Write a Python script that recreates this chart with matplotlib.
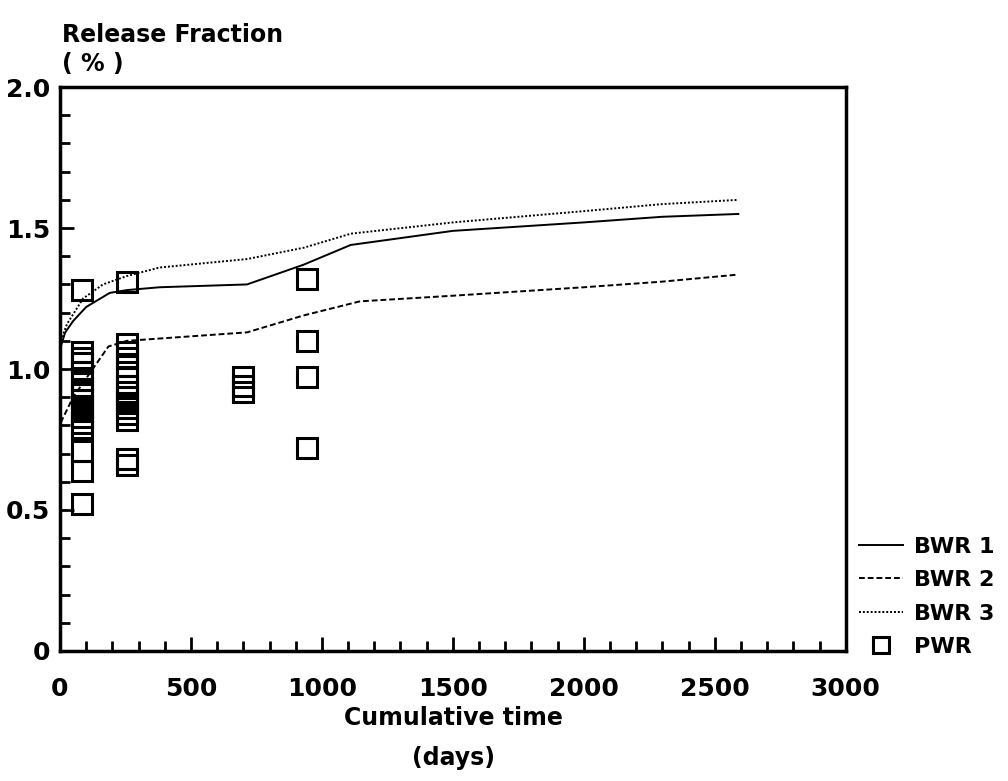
import numpy as np
import matplotlib.pyplot as plt
from matplotlib.ticker import MultipleLocator

# BWR curves (days, release fraction %)
t_bwr1 = [3, 20, 50, 100, 190, 256, 380, 714, 930, 1110, 1500, 2000, 2300, 2590]
bwr1 = [1.08, 1.13, 1.17, 1.22, 1.27, 1.28, 1.29, 1.30, 1.37, 1.44, 1.49, 1.52, 1.54, 1.55]

t_bwr2 = [3, 50, 125, 185, 256, 714, 930, 1145, 1500, 2000, 2300, 2590]
bwr2 = [0.81, 0.90, 1.00, 1.08, 1.10, 1.13, 1.19, 1.24, 1.26, 1.29, 1.31, 1.335]

t_bwr3 = [3, 27, 88, 164, 256, 380, 714, 930, 1110, 1500, 2000, 2300, 2590]
bwr3 = [1.10, 1.16, 1.25, 1.30, 1.33, 1.36, 1.39, 1.43, 1.48, 1.52, 1.56, 1.585, 1.60]

# PWR measurements
pwr_t = [84] * 17 + [256] * 15 + [700] * 3 + [945] * 4
pwr = [1.28, 1.06, 1.04, 1.02, 0.99, 0.96, 0.93, 0.91, 0.89, 0.87, 0.85, 0.83, 0.81, 0.79,
       0.71, 0.64, 0.52,
       1.31, 1.09, 1.06, 1.04, 1.01, 0.97, 0.94, 0.92, 0.90, 0.88, 0.86, 0.84, 0.82,
       0.68, 0.66,
       0.97, 0.94, 0.92,
       1.32, 1.10, 0.97, 0.72]

plt.rc('font', family='DejaVu Sans', weight='bold', size=18)

fig = plt.figure(figsize=(10.08, 7.81), dpi=100)
ax = fig.add_axes([0.0595, 0.1665, 0.7795, 0.722])

ax.plot(t_bwr1, bwr1, color="black", lw=1.4, ls="-", label="BWR 1")
ax.plot(t_bwr2, bwr2, color="black", lw=1.4, ls=(0, (3, 1.5)), label="BWR 2")
ax.plot(t_bwr3, bwr3, color="black", lw=1.4, ls=(0, (1, 1)), label="BWR 3")
ax.plot(pwr_t, pwr, ls="none", marker="s", ms=14, mfc="none", mec="black", mew=2.2,
        label="PWR")

ax.set_xlim(0, 3000)
ax.set_ylim(0, 2.0)
ax.xaxis.set_major_locator(MultipleLocator(500))
ax.xaxis.set_minor_locator(MultipleLocator(100))
ax.yaxis.set_major_locator(MultipleLocator(0.5))
ax.yaxis.set_minor_locator(MultipleLocator(0.1))
ax.set_yticks([0, 0.5, 1.0, 1.5, 2.0])
ax.set_yticklabels(["0", "0.5", "1.0", "1.5", "2.0"])
ax.tick_params(which="both", direction="in", width=2, top=False, right=False)
ax.tick_params(which="major", length=10, labelsize=18)
ax.tick_params(axis="x", which="major", pad=19)
ax.tick_params(axis="y", which="major", pad=7)
ax.tick_params(which="minor", length=7)
for s in ax.spines.values():
    s.set_linewidth(2.5)

fig.text(0.062, 0.955, "Release Fraction", fontsize=17, fontweight="bold", ha="left", va="center")
fig.text(0.062, 0.918, "( % )", fontsize=17, fontweight="bold", ha="left", va="center")
fig.text(0.45, 0.081, "Cumulative time", fontsize=17, fontweight="bold", ha="center", va="center")
fig.text(0.45, 0.030, "(days)", fontsize=17, fontweight="bold", ha="center", va="center")

ax.legend(loc="upper left", bbox_to_anchor=(1.005, 0.218), frameon=False, fontsize=16,
          handlelength=2.0, handletextpad=0.5, labelspacing=0.6, borderaxespad=0,
          markerscale=0.85)

fig.savefig("out.png", dpi=100)
